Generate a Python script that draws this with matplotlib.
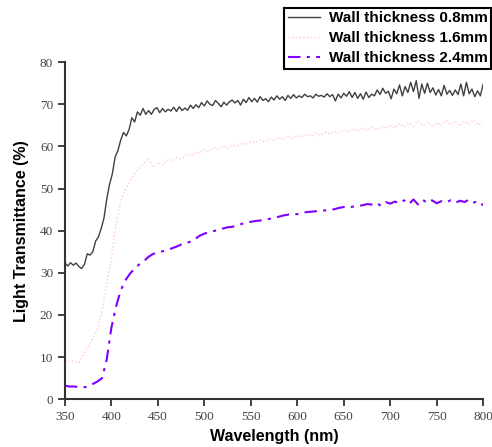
import numpy as np
import matplotlib.pyplot as plt

# wavelength grids (nm)
wl_08 = np.arange(350, 801, 3)
wl_16 = np.arange(350, 801, 5)
wl_24 = np.arange(350, 801, 5)

# light transmittance (%)
t_08 = [32.4, 31.6, 32.4, 31.8, 32.3, 31.5, 31.0, 32.0, 34.5, 34.2,
        35.0, 37.5, 38.5, 40.5, 43.0, 47.5, 51.0, 53.5, 57.5, 59.0,
        61.5, 63.3, 62.5, 64.0, 66.8, 65.8, 68.2, 67.4, 69.0, 67.6,
        68.5, 67.6, 68.8, 69.2, 68.0, 69.0, 68.2, 68.8, 68.4, 69.3,
        68.3, 69.4, 68.5, 69.1, 68.6, 69.8, 69.0, 69.9, 69.2, 70.4,
        69.6, 70.8, 70.0, 69.7, 70.9, 70.2, 69.4, 70.5, 69.8, 70.6,
        71.0, 70.3, 70.9, 69.8, 71.2, 70.4, 71.6, 70.6, 71.4, 70.5,
        71.8, 70.9, 71.3, 70.6, 71.7, 71.0, 72.0, 71.2, 71.8, 70.9,
        72.1, 71.4, 72.3, 71.5, 72.0, 71.6, 72.4, 71.8, 72.0, 71.5,
        72.4, 71.9, 72.1, 71.7, 72.5, 71.8, 72.3, 70.8, 72.4, 71.5,
        72.6, 71.9, 73.0, 71.6, 72.8, 71.4, 72.5, 71.2, 72.9, 71.6,
        72.4, 72.0, 73.4, 72.3, 73.8, 72.6, 73.1, 71.3, 73.6, 72.5,
        74.6, 72.0, 74.2, 72.8, 75.2, 73.0, 75.6, 71.4, 74.8, 72.6,
        75.0, 72.8, 73.9, 72.2, 73.5, 72.0, 74.5, 72.4, 73.3, 72.1,
        73.4, 72.3, 74.8, 72.0, 75.2, 72.5, 73.6, 71.8, 73.2, 72.0,
        74.8]

t_16 = [9.5, 9.2, 9.0, 8.6, 10.8, 12.5, 14.5, 17.0, 21.0, 27.5,
        33.5, 41.5, 47.0, 49.8, 51.8, 53.5, 54.8, 56.0, 57.3, 55.0,
        56.2, 55.6, 56.8, 56.3, 57.4, 57.0, 58.0, 57.6, 58.6, 58.4,
        59.2, 58.8, 59.6, 59.3, 60.0, 59.6, 60.4, 60.0, 60.8, 60.5,
        61.2, 60.8, 61.5, 61.2, 61.8, 61.4, 62.0, 61.6, 62.5, 62.0,
        62.6, 62.2, 62.9, 62.4, 63.1, 62.7, 63.4, 63.0, 63.6, 63.3,
        63.9, 63.5, 64.1, 63.6, 64.3, 63.8, 64.6, 64.0, 64.8, 64.3,
        65.0, 64.4, 65.4, 64.6, 65.6, 64.8, 66.0, 64.9, 65.8, 64.8,
        65.6, 65.0, 66.2, 65.2, 65.8, 64.9, 66.0, 65.2, 66.3, 65.0,
        65.8]

t_24 = [3.2, 3.0, 3.0, 2.9, 2.8, 3.0, 3.6, 4.2, 5.0, 9.5,
        17.0, 22.0, 25.8, 28.2, 29.8, 31.0, 32.0, 32.8, 33.8, 34.5,
        34.8, 35.1, 35.4, 35.8, 36.2, 36.7, 37.0, 37.4, 38.0, 38.8,
        39.3, 39.6, 39.9, 40.2, 40.5, 40.8, 40.9, 41.2, 41.6, 41.9,
        42.1, 42.3, 42.4, 42.6, 42.8, 43.0, 43.3, 43.6, 43.8, 44.0,
        43.9, 44.2, 44.4, 44.5, 44.6, 44.7, 44.8, 44.9, 45.1, 45.4,
        45.6, 45.5, 45.7, 45.9, 46.0, 46.3, 46.2, 46.6, 45.9, 46.8,
        46.4, 46.9, 46.5, 47.2, 46.3, 47.4, 46.2, 47.3, 46.6, 47.2,
        46.5, 47.0, 46.7, 47.2, 46.6, 47.1, 46.8, 47.4, 46.7, 47.0,
        46.0]

labels = ["Wall thickness 0.8mm", "Wall thickness 1.6mm", "Wall thickness 2.4mm"]

fig = plt.figure(figsize=(4.92, 4.47), dpi=100)
ax = fig.add_axes([0.132, 0.107, 0.85, 0.754])

ax.plot(wl_08, t_08, color="#404040", lw=1.0, label=labels[0])
ax.plot(wl_16, t_16, color="#FFC8D0", lw=1.0, ls=":", label=labels[1])
ax.plot(wl_24, t_24, color="#8000FF", lw=1.5, ls=(0, (6, 3, 1.5, 3)), label=labels[2])

ax.set_xlim(350, 800)
ax.set_ylim(0, 80)
ax.set_xticks(range(350, 801, 50))
ax.set_yticks(range(0, 81, 10))

for s in ["top", "right"]:
    ax.spines[s].set_visible(False)
for s in ["left", "bottom"]:
    ax.spines[s].set_linewidth(1.5)
    ax.spines[s].set_color("#333333")

ax.tick_params(direction="out", length=5, width=1.3, color="#333333",
               labelcolor="#444444", labelsize=9.5)
for lab in ax.get_xticklabels() + ax.get_yticklabels():
    lab.set_family("Liberation Serif")

ax.set_xlabel("Wavelength (nm)", fontsize=11.5, fontweight="bold",
              family="Liberation Sans", labelpad=4)
ax.set_ylabel("Light Transmittance (%)", fontsize=11.5, fontweight="bold",
              family="Liberation Sans", labelpad=8)

leg = fig.legend(loc="upper right", bbox_to_anchor=(1.0, 0.984), fancybox=False,
                 framealpha=1, edgecolor="black", handlelength=2.1,
                 prop={"family": "Liberation Sans", "weight": "bold", "size": 11},
                 borderpad=0.22, labelspacing=0.4, handletextpad=0.6, borderaxespad=0.05)
leg.get_frame().set_linewidth(1.5)

plt.savefig("out.png", dpi=100)
